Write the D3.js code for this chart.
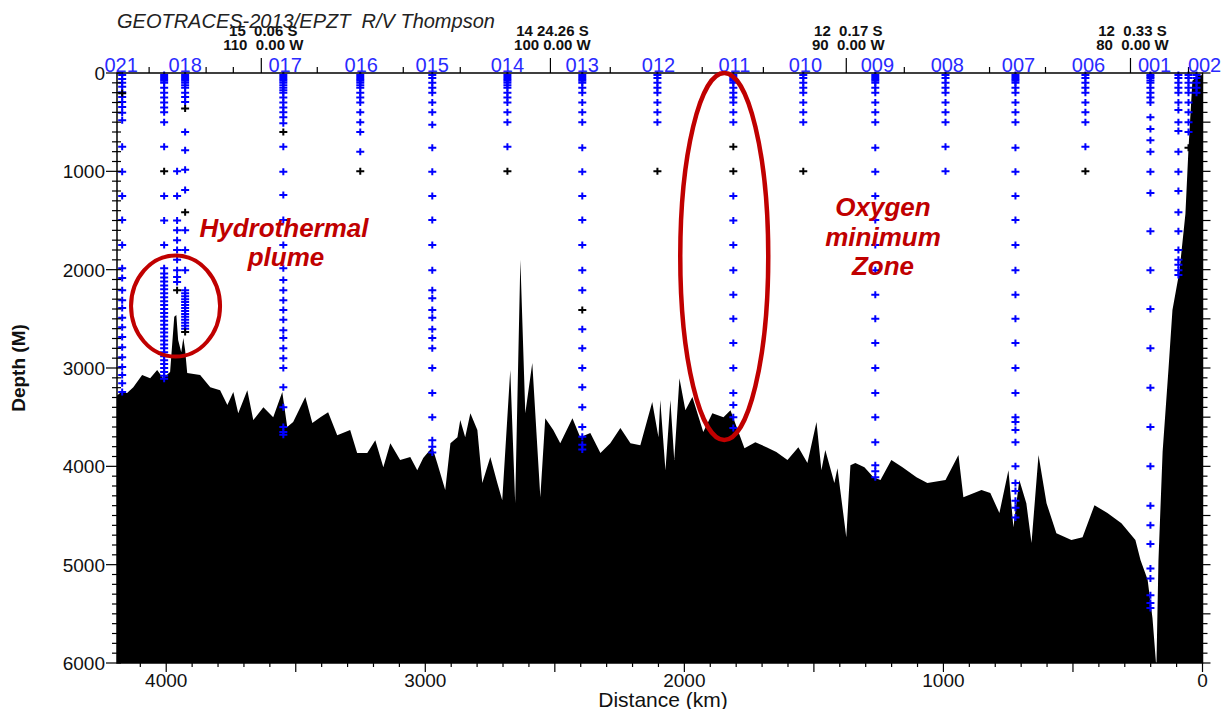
<!DOCTYPE html>
<html>
<head>
<meta charset="utf-8">
<script src="https://cdn.jsdelivr.net/npm/d3@7"></script>
<style>
  body { margin: 0; background: #fff; }
  svg { display: block; font-family: "Liberation Sans", Arial, sans-serif; }
</style>
</head>
<body>
<div id="chart"></div>
<script>
// bathymetry (distance in km, depth in m)
const bathyDist = [4190, 4178, 4151, 4127, 4093, 4062, 4035, 4012, 3985, 3969, 3961, 3954, 3942, 3934, 3927, 3919,
  3869, 3830, 3792, 3764, 3741, 3722, 3687, 3664, 3625, 3587, 3552, 3533, 3510, 3463, 3436, 3405, 3375, 3340,
  3290, 3263, 3224, 3193, 3162, 3135, 3097, 3058, 3031, 3008, 2973, 2954, 2923, 2903, 2876, 2865, 2846, 2826,
  2799, 2780, 2749, 2722, 2703, 2672, 2653, 2633, 2614, 2587, 2556, 2537, 2506, 2479, 2432, 2402, 2363, 2324,
  2286, 2247, 2208, 2170, 2124, 2100, 2093, 2073, 2054, 2039, 2019, 1996, 1969, 1927, 1892, 1849, 1822, 1768,
  1726, 1683, 1645, 1602, 1560, 1525, 1490, 1471, 1456, 1421, 1409, 1375, 1359, 1340, 1305, 1270, 1243, 1201,
  1158, 1104, 1062, 992, 942, 923, 853, 819, 784, 749, 730, 707, 680, 660, 633, 602, 564, 506, 463, 417, 367,
  313, 259, 239, 212, 193, 178, 170, 154, 131, 116, 89, 66, 54, 39, 19, 0];
const bathyDepth = [3280, 3255, 3255, 3195, 3070, 3105, 3020, 3105, 3040, 2480, 2460, 2715, 2840, 2695, 2820, 3050,
  3070, 3195, 3225, 3375, 3245, 3460, 3225, 3530, 3400, 3500, 3245, 3600, 3550, 3295, 3560, 3500, 3450, 3685,
  3630, 3865, 3865, 3735, 4010, 3765, 3935, 3905, 4040, 3915, 3805, 3965, 4240, 3765, 3705, 3530, 3705, 3460,
  3630, 4170, 3905, 4170, 4345, 3020, 4375, 1900, 3460, 2950, 4315, 3510, 3630, 3765, 3510, 3705, 3660, 3865,
  3765, 3610, 3765, 3785, 3345, 3705, 3325, 4040, 3325, 3935, 3105, 3430, 3295, 3650, 3460, 3500, 3430, 3815,
  3755, 3805, 3855, 3935, 3805, 3965, 3550, 4040, 3835, 4170, 4020, 4720, 3990, 3965, 4010, 4110, 4140, 3935,
  4010, 4110, 4170, 4140, 3885, 4315, 4240, 4270, 4475, 4040, 4620, 4140, 4375, 4780, 3885, 4375, 4680, 4750,
  4720, 4395, 4475, 4580, 4750, 4955, 5150, 5545, 6050, 4955, 3855, 3000, 2410, 2015, 1435, 765, 80, 30, 20];

// station labels along the top axis
const stationNames = ["021", "018", "017", "016", "015", "014", "013", "012", "011", "010", "009", "008", "007", "006", "001", "002"];
const stationLabelDist = [4174, 3927, 3541, 3247, 2973, 2683, 2394, 2100, 1807, 1533, 1255, 985, 710, 440, 185, -8];

// sample positions of each cast
const castDist = [4170, 4008, 3958, 3927, 3548, 3251, 2973, 2683, 2394, 2104, 1811, 1541, 1263, 992, 722, 452, 201, 93, 54, 23];
const castDepths = [
  [20, 60, 100, 140, 195, 245, 295, 345, 405, 480, 750, 1005, 1250, 1495, 1750, 1985, 2085, 2210, 2310, 2390, 2490, 2585, 2685, 2790, 2890, 2990, 3070, 3155, 3245],
  [20, 40, 60, 80, 100, 150, 200, 250, 300, 350, 400, 500, 750, 1250, 1500, 1750, 1985, 2040, 2080, 2120, 2160, 2200, 2240, 2280, 2320, 2360, 2400, 2440, 2480, 2520, 2560, 2600, 2640, 2680, 2720, 2760, 2800, 2840, 2880, 2920, 2960, 3000, 3040, 3080, 3110],
  [1000, 1250, 1500, 1600, 1700, 1800, 1900, 2005, 2075, 2125],
  [20, 40, 60, 80, 100, 125, 150, 200, 245, 295, 600, 785, 985, 1190, 1600, 1800, 2005, 2210, 2240, 2270, 2300, 2330, 2360, 2390, 2420, 2450, 2480, 2510, 2540, 2570, 2600],
  [20, 40, 60, 80, 100, 125, 150, 175, 200, 250, 300, 350, 400, 450, 510, 750, 1005, 1240, 1495, 1750, 1985, 2105, 2210, 2310, 2410, 2510, 2615, 2695, 2800, 2900, 3000, 3195, 3400, 3600, 3650, 3680],
  [20, 40, 60, 80, 100, 125, 150, 200, 250, 300, 400, 500, 600, 800],
  [20, 50, 100, 150, 200, 300, 400, 525, 760, 1005, 1250, 1495, 1750, 2005, 2210, 2290, 2410, 2490, 2605, 2695, 2800, 3000, 3255, 3500, 3735, 3800, 3860],
  [20, 40, 60, 80, 100, 125, 150, 200, 250, 300, 400, 500, 750],
  [20, 40, 60, 80, 100, 150, 200, 300, 400, 500, 760, 1005, 1250, 1495, 1750, 2005, 2210, 2605, 2800, 3000, 3195, 3400, 3600, 3700, 3780, 3830],
  [20, 50, 100, 150, 200, 300, 400, 500],
  [20, 40, 60, 80, 100, 150, 200, 250, 300, 400, 500, 1250, 1500, 1750, 2005, 2255, 2500, 2745, 3000, 3255, 3375, 3500, 3610],
  [20, 50, 100, 150, 200, 300, 400, 500],
  [20, 40, 60, 80, 100, 150, 200, 300, 400, 500, 760, 1005, 1250, 1495, 1750, 2005, 2255, 2500, 2745, 3000, 3255, 3500, 3755, 3990, 4050, 4110],
  [20, 50, 100, 150, 200, 300, 400, 500, 750, 1000],
  [20, 40, 60, 80, 100, 150, 200, 300, 400, 500, 760, 1005, 1250, 1495, 1750, 2005, 2255, 2500, 2745, 3000, 3255, 3500, 3550, 3630, 3755, 4000, 4170, 4250, 4350, 4420, 4520],
  [20, 50, 100, 150, 200, 300, 400, 500, 750],
  [20, 35, 50, 75, 100, 150, 200, 250, 300, 450, 570, 685, 800, 1005, 1220, 1610, 2005, 2400, 2800, 3200, 3600, 4000, 4400, 4600, 4790, 5040, 5140, 5310, 5390, 5440],
  [20, 50, 100, 150, 200, 300, 375, 500, 590, 800, 1005, 1200, 1415, 1610, 1800, 1900, 1950, 2005, 2055],
  [20, 50, 100, 150, 200, 300, 400, 500, 600],
  [20, 50, 100, 150, 200]
];
// samples drawn in black
const castBlack = [[205], [1000], [2210], [360, 1415, 2635], [600], [1000], [], [1000], [2410], [1000],
  [750, 1000], [1000], [], [], [], [1000], [], [], [760], []];

// longitude marks on the top axis
const lonDist = [3633, 2517, 1375, 278];
const latText = ["15\u00a0\u00a00.06 S", "14 24.26 S", "12\u00a0\u00a00.17 S", "12\u00a0\u00a00.33 S"];
const lonText = ["110\u00a0\u00a00.00 W", "100 0.00 W", "90\u00a0\u00a00.00 W", "80\u00a0\u00a00.00 W"];
const topMinorDist = [4066, 3846, 3741, 3417, 3085, 2865, 2286, 1931, 1695, 1151, 822, 606, 54];

const xTicks = [4000, 3000, 2000, 1000, 0];
const yTicks = [0, 1000, 2000, 3000, 4000, 5000, 6000];

const width = 1226;
const height = 709;
const plotLeft = 117, plotRight = 1202.5, plotTop = 73, plotBottom = 663;
const red = "#c00000";

const x = d3.scaleLinear().domain([4190, 0]).range([plotLeft, plotRight]);
const y = d3.scaleLinear().domain([0, 6000]).range([plotTop, plotBottom]);

const svg = d3.select("#chart").append("svg")
  .attr("width", width)
  .attr("height", height);

svg.append("clipPath").attr("id", "plotClip")
  .append("rect")
  .attr("x", plotLeft).attr("y", plotTop)
  .attr("width", plotRight - plotLeft).attr("height", plotBottom - plotTop);

// bathymetry
const bathy = d3.zip(bathyDist, bathyDepth);
const area = d3.area()
  .x((d) => x(d[0]))
  .y0(y(6000))
  .y1((d) => y(d[1]));

svg.append("path")
  .datum(bathy)
  .attr("clip-path", "url(#plotClip)")
  .attr("fill", "#000")
  .attr("d", area);

// sample crosses
const samples = [];
castDist.forEach((d, i) => {
  castDepths[i].forEach((z) => samples.push({ d: d, z: z, black: false }));
  castBlack[i].forEach((z) => samples.push({ d: d, z: z, black: true }));
});

svg.append("g")
  .selectAll("path")
  .data(samples)
  .join("path")
  .attr("transform", (s) => `translate(${x(s.d)},${y(s.z)})`)
  .attr("d", "M-4,0H4M0,-3.5V3.5")
  .attr("stroke", (s) => (s.black ? "#000" : "#0000ff"))
  .attr("stroke-width", 2)
  .attr("fill", "none");

// frame
svg.append("rect")
  .attr("x", plotLeft).attr("y", plotTop)
  .attr("width", plotRight - plotLeft).attr("height", plotBottom - plotTop)
  .attr("fill", "none")
  .attr("stroke", "#000")
  .attr("stroke-width", 1.5);

// left axis ticks cross the axis line
svg.append("g")
  .selectAll("line")
  .data(y.ticks(60))
  .join("line")
  .attr("x1", (d) => (d % 1000 === 0 ? plotLeft - 11 : plotLeft - 5))
  .attr("x2", plotLeft + 4)
  .attr("y1", (d) => y(d))
  .attr("y2", (d) => y(d))
  .attr("stroke", "#000")
  .attr("stroke-width", 1.2);

// right axis ticks
svg.append("g")
  .selectAll("line")
  .data(y.ticks(60))
  .join("line")
  .attr("x1", plotRight)
  .attr("x2", (d) => (d % 500 === 0 ? plotRight + 8 : plotRight + 5))
  .attr("y1", (d) => y(d))
  .attr("y2", (d) => y(d))
  .attr("stroke", "#000")
  .attr("stroke-width", 1.2);

svg.append("g")
  .selectAll("text")
  .data(yTicks)
  .join("text")
  .attr("x", plotLeft - 12)
  .attr("y", (d) => y(d) + 7)
  .attr("text-anchor", "end")
  .style("font-size", "19px")
  .style("fill", "#111")
  .text((d) => d);

// bottom axis
svg.append("g")
  .selectAll("line")
  .data(d3.range(0, 4190, 100))
  .join("line")
  .attr("x1", (d) => x(d))
  .attr("x2", (d) => x(d))
  .attr("y1", plotBottom)
  .attr("y2", (d) => (d % 500 === 0 ? plotBottom + 9 : plotBottom + 4))
  .attr("stroke", "#000")
  .attr("stroke-width", 1.2);

svg.append("g")
  .selectAll("text")
  .data(xTicks)
  .join("text")
  .attr("x", (d) => x(d))
  .attr("y", plotBottom + 24)
  .attr("text-anchor", "middle")
  .style("font-size", "19px")
  .style("fill", "#111")
  .text((d) => d);

// top axis ticks
svg.append("g")
  .selectAll("line")
  .data(topMinorDist)
  .join("line")
  .attr("x1", (d) => x(d))
  .attr("x2", (d) => x(d))
  .attr("y1", plotTop)
  .attr("y2", plotTop - 6)
  .attr("stroke", "#000")
  .attr("stroke-width", 1.2);

svg.append("g")
  .selectAll("line")
  .data(lonDist)
  .join("line")
  .attr("x1", (d) => x(d))
  .attr("x2", (d) => x(d))
  .attr("y1", plotTop)
  .attr("y2", plotTop - 15)
  .attr("stroke", "#000")
  .attr("stroke-width", 1.2);

// latitude / longitude labels
const lonLabels = svg.append("g")
  .style("font-size", "15px")
  .style("font-weight", "bold")
  .style("fill", "#111")
  .attr("text-anchor", "middle");

lonLabels.selectAll(".lat")
  .data(lonDist)
  .join("text")
  .attr("class", "lat")
  .attr("x", (d) => x(d) + 2)
  .attr("y", 36)
  .text((d, i) => latText[i]);

lonLabels.selectAll(".lon")
  .data(lonDist)
  .join("text")
  .attr("class", "lon")
  .attr("x", (d) => x(d) + 2)
  .attr("y", 50)
  .text((d, i) => lonText[i]);

// station names
svg.append("g")
  .selectAll("text")
  .data(stationNames)
  .join("text")
  .attr("x", (d, i) => x(stationLabelDist[i]))
  .attr("y", plotTop - 1)
  .attr("text-anchor", "middle")
  .style("font-size", "20px")
  .style("fill", "#2a2aff")
  .text((d) => d);

// title
svg.append("text")
  .attr("x", 117)
  .attr("y", 28)
  .style("font-size", "20px")
  .style("font-style", "italic")
  .style("fill", "#222")
  .text("GEOTRACES-2013/EPZT\u00a0\u00a0R/V Thompson");

// axis titles
svg.append("text")
  .attr("transform", `translate(25,${(plotTop + plotBottom) / 2}) rotate(-90)`)
  .attr("text-anchor", "middle")
  .style("font-size", "19px")
  .style("font-weight", "bold")
  .style("fill", "#111")
  .text("Depth (M)");

svg.append("text")
  .attr("x", 663)
  .attr("y", 707)
  .attr("text-anchor", "middle")
  .style("font-size", "21px")
  .style("fill", "#111")
  .text("Distance (km)");

// annotations
svg.append("ellipse")
  .attr("cx", x(3964)).attr("cy", y(2370))
  .attr("rx", 44.5).attr("ry", 50.5)
  .attr("fill", "none")
  .attr("stroke", red)
  .attr("stroke-width", 4);

svg.append("ellipse")
  .attr("cx", x(1846)).attr("cy", y(1866))
  .attr("rx", 44).attr("ry", 183.5)
  .attr("fill", "none")
  .attr("stroke", red)
  .attr("stroke-width", 4.5);

const note = svg.append("g")
  .attr("text-anchor", "middle")
  .style("font-size", "26px")
  .style("font-weight", "bold")
  .style("font-style", "italic")
  .style("fill", red);

note.append("text").attr("x", 284).attr("y", 237).text("Hydrothermal");
note.append("text").attr("x", 286).attr("y", 266).text("plume");
note.append("text").attr("x", 883).attr("y", 216).text("Oxygen");
note.append("text").attr("x", 883).attr("y", 246).text("minimum");
note.append("text").attr("x", 883).attr("y", 275).text("Zone");
</script>
</body>
</html>
